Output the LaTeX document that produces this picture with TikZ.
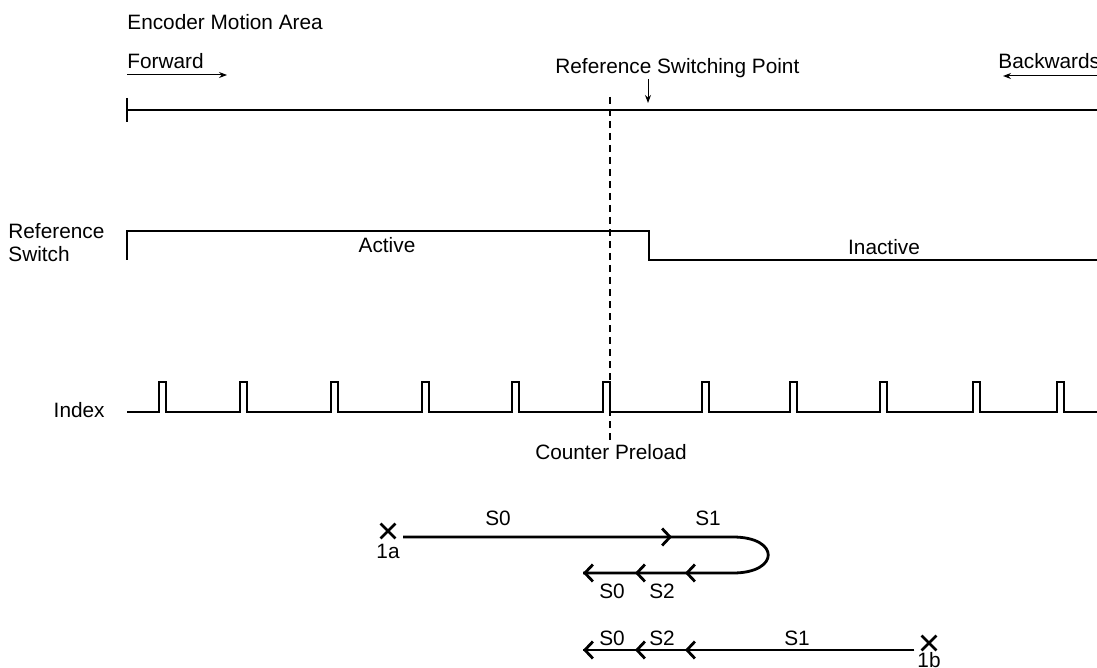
\documentclass[tikz,border=0pt]{standalone}
\usepackage{fontspec}
\setmainfont{Liberation Sans}
\usetikzlibrary{arrows.meta,shapes.misc}

\begin{document}
\begin{tikzpicture}[x=0.5pt, y=-0.5pt,
    txt/.style={font=\fontsize{10.4}{11.5}\selectfont, inner sep=0pt},
    signal/.style={line width=1.3pt, line join=miter},
    hint/.style={line width=0.5pt, -{Stealth[length=4pt, width=3pt]}},
    travel/.style={line width=1.4pt},
    barb/.style={line width=1.4pt, -{Straight Barb[length=4pt, width=8.5pt]}},
    xmark/.style={cross out, draw, line width=1.4pt, minimum size=6pt, inner sep=0pt}]

        \useasboundingbox (0,0) rectangle (1097,668);

        % ==========================================
        % AREA DE MOVIMIENTO
        % ==========================================
        \node[txt, anchor=west] (title) at (127,22) {Encoder Motion Area};

        % Sentidos
        \node[txt, anchor=west] (fwd) at (127,61) {Forward};
        \coordinate (fwdA) at (127,75);
        \coordinate (fwdB) at (227,75);
        \draw[hint] (fwdA) -- (fwdB);

        \node[txt, anchor=west] (bwd) at (998,61) {Backwards};
        \coordinate (bwdA) at (1097,76);
        \coordinate (bwdB) at (1003,76);
        \draw[hint] (bwdA) -- (bwdB);

        % Punto de conmutacion
        \node[txt, anchor=west] (rsp) at (555,68) {Reference Switching Point};
        \coordinate (rspA) at (648,79);
        \coordinate (rspB) at (648,103);
        \draw[hint] (rspA) -- (rspB);

        % Eje de recorrido
        \coordinate (axA) at (127,110);
        \coordinate (axB) at (1097,110);
        \draw[line width=1.4pt] (axA) -- (axB);
        \draw[line width=1.4pt] (axA) ++(0,-12) -- ++(0,24);

        % Linea de precarga
        \coordinate (preA) at (610,97);
        \coordinate (preB) at (610,440);
        \draw[line width=1.1pt, dash pattern=on 3.5pt off 2.5pt] (preA) -- (preB);

        % ==========================================
        % SEÑALES
        % ==========================================
        \node[txt, anchor=west, align=left] (rsLbl) at (8,243) {Reference\\Switch};
        \draw[signal] (127,260) -- (127,231) -- (649,231) -- (649,260) -- (1097,260);
        \node[txt] (act) at (387,245) {Active};
        \node[txt] (inact) at (884,247) {Inactive};

        % Index
        \node[txt, anchor=east] (idxLbl) at (105,410) {Index};
        \draw[signal] (127,412)
            foreach \p in {159,240,331,422,512,603,702,790,880,973,1057} {
                -- (\p,412) -- (\p,382) -- (\p+7,382) -- (\p+7,412)
            } -- (1097,412);

        \node[txt] (cpl) at (611,452) {Counter Preload};

        % ==========================================
        % RECORRIDOS 1a / 1b
        % ==========================================
        % Recorrido 1a
        \node[xmark] (x1a) at (388,531) {};
        \node[txt] (l1a) at (388,551) {1a};
        \coordinate (a0) at (403,537);
        \coordinate (a1) at (672,537);
        \coordinate (a2) at (733,537);
        \coordinate (a3) at (733,573);
        \coordinate (a4) at (685,573);
        \coordinate (a5) at (635,573);
        \coordinate (a6) at (583,573);
        \draw[travel] (a0) -- (a2) .. controls (780,537) and (780,573) .. (a3) -- (a6);
        \draw[barb] (a0) -- (a1);
        \draw[barb] (a3) -- (a4);
        \draw[barb] (a3) -- (a5);
        \draw[barb] (a3) -- (a6);
        \node[txt] (s0a) at (498,518) {S0};
        \node[txt] (s1a) at (708,518) {S1};
        \node[txt] (s0b) at (612,591) {S0};
        \node[txt] (s2b) at (662,591) {S2};

        % Recorrido 1b
        \node[xmark] (x1b) at (929,643) {};
        \node[txt] (l1b) at (929,660) {1b};
        \coordinate (b0) at (914,650);
        \coordinate (b1) at (685,650);
        \coordinate (b2) at (635,650);
        \coordinate (b3) at (583,650);
        \draw[travel] (b0) -- (b3);
        \draw[barb] (b0) -- (b1);
        \draw[barb] (b0) -- (b2);
        \draw[barb] (b0) -- (b3);
        \node[txt] (s0c) at (612,638) {S0};
        \node[txt] (s2c) at (662,638) {S2};
        \node[txt] (s1c) at (797,638) {S1};

    \end{tikzpicture}
\end{document}
